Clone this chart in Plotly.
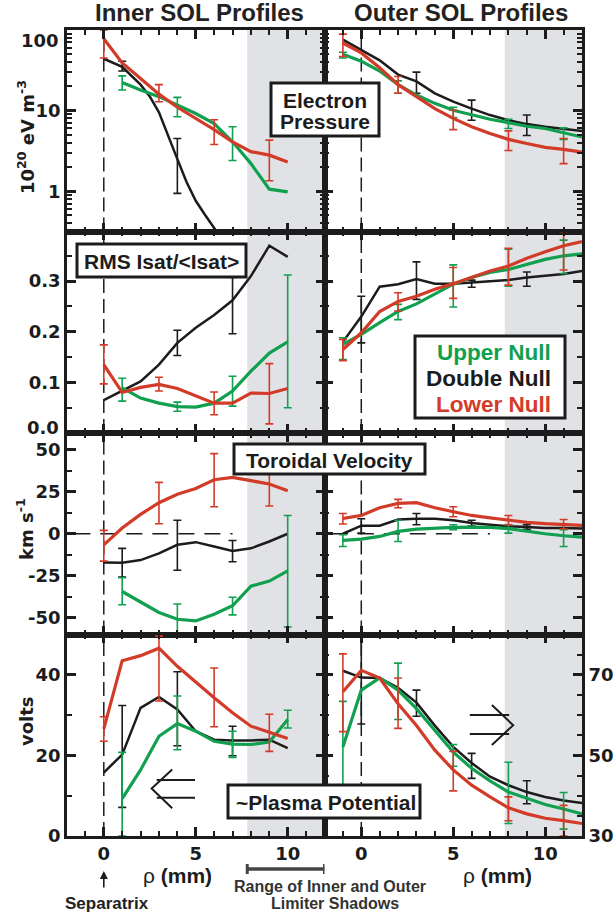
import plotly.graph_objects as go
from plotly.subplots import make_subplots

# ---------------- data ----------------
X_IN = [0, 1, 2, 3, 4, 5, 6, 7, 8, 9, 10]
X_IN_G = [1, 2, 3, 4, 5, 6, 7, 8, 9, 10]
X_OUT = [-1, 0, 1, 2, 3, 4, 5, 6, 7, 8, 9, 10, 11, 12]

# Electron pressure (10^20 eV m^-3)
PE_IN_BLK_X = [0, 1, 2, 2.5, 3, 3.5, 4, 4.5, 5, 5.5, 6, 6.5]
PE_IN_BLK = [44, 35, 21, 15, 9.5, 5.0, 2.5, 1.3, 0.76, 0.51, 0.35, 0.24]
PE_IN_GRN = [22.3, 18, 14.9, 11.7, 9.2, 6.9, 4.1, 2.2, 1.06, 0.98]
PE_IN_RED = [78, 39, 25, 16, 11, 8, 5.8, 4.1, 3.1, 2.8, 2.3]
PE_OUT_BLK = [76, 57, 42, 28, 23, 16.4, 12.9, 10.6, 8.8, 7.6, 6.8, 6.3, 5.9, 5.6]
PE_OUT_GRN = [50, 41, 31, 21, 15.6, 12.3, 10.1, 8.8, 7.8, 7.1, 6.4, 6.0, 5.3, 4.7]
PE_OUT_RED = [69, 52, 34, 21, 14.9, 10.6, 8.0, 6.3, 5.2, 4.4, 3.9, 3.5, 3.3, 3.05]

PE_IN_BLK_E = ([1, 4], [31, 0.94], [41, 4.5])
PE_IN_GRN_E = ([1, 4, 7], [18, 8.4, 2.4], [27, 14.6, 6.3])
PE_IN_RED_E = ([0, 3, 6, 9], [45, 12.9, 3.8, 1.35], [100, 21, 7.7, 4.3])
PE_OUT_BLK_E = ([3, 6, 9], [16.4, 7.6, 4.9], [30, 13.5, 8.8])
PE_OUT_GRN_E = ([-1, 2, 5, 8, 11], [45, 16.4, 8.2, 6.0, 4.4], [53, 23.4, 11, 7.8, 6.1])
PE_OUT_RED_E = ([-1, 2, 5, 8, 11], [47, 16.4, 5.8, 3.2, 2.2], [89, 26.5, 10.1, 5.6, 4.5])

# RMS Isat/<Isat>
RMS_IN_BLK = [0.065, 0.084, 0.102, 0.135, 0.178, 0.208, 0.233, 0.262, 0.31, 0.37, 0.348]
RMS_IN_GRN = [0.089, 0.069, 0.059, 0.052, 0.051, 0.059, 0.083, 0.122, 0.158, 0.18]
RMS_IN_RED = [0.135, 0.08, 0.09, 0.096, 0.088, 0.073, 0.059, 0.059, 0.079, 0.078, 0.088]
RMS_OUT_BLK = [0.18, 0.23, 0.289, 0.294, 0.304, 0.295, 0.295, 0.297, 0.299, 0.302, 0.307, 0.31, 0.314, 0.32]
RMS_OUT_GRN = [0.175, 0.195, 0.218, 0.24, 0.255, 0.274, 0.294, 0.307, 0.317, 0.323, 0.333, 0.343, 0.35, 0.354]
RMS_OUT_RED = [0.165, 0.198, 0.24, 0.26, 0.27, 0.284, 0.295, 0.308, 0.32, 0.33, 0.345, 0.358, 0.37, 0.378]

RMS_IN_BLK_E = ([4, 7], [0.153, 0.196], [0.203, 0.307])
RMS_IN_GRN_E = ([1, 4, 7, 10], [0.063, 0.043, 0.053, 0.05], [0.108, 0.061, 0.112, 0.312])
RMS_IN_RED_E = ([0, 3, 6, 9], [0.097, 0.083, 0.036, 0.018], [0.174, 0.11, 0.081, 0.137])
RMS_OUT_BLK_E = ([0, 3, 6, 9], [0.178, 0.264, 0.288, 0.29], [0.27, 0.338, 0.302, 0.318])
RMS_OUT_GRN_E = ([-1, 2, 5, 8, 11], [0.145, 0.224, 0.249, 0.29, 0.315], [0.188, 0.254, 0.332, 0.363, 0.381])
RMS_OUT_RED_E = ([-1, 2, 5, 8, 11], [0.143, 0.241, 0.266, 0.292, 0.322], [0.185, 0.277, 0.327, 0.365, 0.398])

# Toroidal velocity (km/s)
VEL_IN_BLK = [-17.1, -17.3, -15.7, -11.7, -6.6, -5, -7.6, -10.3, -8.7, -4.6, 0]
VEL_IN_GRN = [-34.4, -40.8, -46.9, -50.9, -51.9, -47.9, -42.9, -31.2, -28.2, -22.1]
VEL_IN_RED = [-6.6, 3.4, 11.5, 18.5, 23.5, 27, 32.2, 33.6, 31.6, 29.6, 25.6]
VEL_OUT_BLK = [0, 4.8, 4.8, 8.5, 8.9, 8.9, 8.0, 6.4, 5.4, 4.4, 4.0, 3.4, 3.4, 3.2]
VEL_OUT_GRN = [-4.0, -3.2, -1.6, 1.4, 2.8, 3.4, 3.8, 4.0, 3.8, 3.0, 1.4, 0, -1.2, -2.0]
VEL_OUT_RED = [9.1, 10.9, 15.5, 18.1, 18.5, 15.5, 13.1, 10.9, 9.5, 8.0, 6.8, 6.0, 5.6, 5.0]

VEL_IN_BLK_E = ([1, 4, 7], [-25.8, -21.7, -16.7], [-8.7, 8, -4])
VEL_IN_GRN_E = ([1, 4, 7, 10], [-42.3, -60.4, -48.3, -55.5], [-26.2, -41.8, -37.8, 10.9])
VEL_IN_RED_E = ([0, 3, 6, 9], [-16.3, 6, 16.1, 16.5], [2, 30.6, 47.7, 40.6])
VEL_OUT_BLK_E = ([0, 3, 6, 9], [0.4, 5.4, 4.6, 2.6], [8.9, 12.1, 8, 5.4])
VEL_OUT_GRN_E = ([-1, 2, 5, 8, 11], [-7.6, -4.6, 2.4, 0.4, -7.6], [-0.6, 8, 5.4, 5.4, 2.4])
VEL_OUT_RED_E = ([-1, 2, 5, 8, 11], [5.8, 15.5, 10.1, 5.4, 2.8], [12.1, 20.5, 16.1, 10.9, 8.5])

# ~Plasma potential (volts)
POT_IN_BLK = [15.75, 20.2, 31.8, 34.5, 31.4, 26, 23.9, 23.7, 23.7, 23.9, 21.8]
POT_IN_GRN = [9.3, 16.4, 24.75, 27.9, 26, 23.5, 22.8, 22.7, 23.3, 28.9]
POT_IN_RED = [26.6, 43.5, 44.75, 46.6, 42.1, 38.1, 34.3, 30.6, 27.25, 25.75, 24.2]
POT_OUT_BLK = [71, 69.3, 69.2, 66.8, 63.1, 57.4, 52.1, 48.1, 44.7, 42.6, 40.9, 39.7, 38.8, 38.2]
POT_OUT_GRN = [52.1, 66.2, 69.2, 66.2, 61.6, 56.1, 50.8, 46.8, 43.7, 40.9, 39.3, 37.8, 36.7, 35.5]
POT_OUT_RED = [65.8, 71.1, 69.2, 62.8, 57.4, 51.3, 46.4, 42.6, 39.7, 37, 35.5, 34.4, 33.8, 33.1]

POT_IN_BLK_E = ([1, 4, 7], [7.1, 22.4, 19.9], [32.4, 40.75, 27.25])
POT_IN_GRN_E = ([1, 4, 7, 10], [0, 21.4, 19.5, 26.8], [20.75, 34.75, 26, 31.2])
POT_IN_RED_E = ([0, 3, 6, 9], [23.5, 33.5, 27.1, 21], [29.6, 49.6, 41.7, 30.2])
POT_OUT_BLK_E = ([0, 3, 6, 9], [57.8, 59.7, 44.3, 38], [80.8, 66.2, 50.5, 43.7])
POT_OUT_GRN_E = ([-1, 2, 5, 8, 11], [42.6, 58.9, 47.3, 33.1, 31.7], [63.4, 72.9, 52.7, 48.3, 40.8])
POT_OUT_RED_E = ([-1, 2, 5, 8, 11], [55.9, 56.7, 41.2, 33.8, 30], [75.2, 69.2, 51, 39.7, 37.6])

SEPARATRIX = 0
SHADOW = [7.8, 12]
X_RANGE = [-2, 12]

PE_TICKS = [1, 10, 100]
RMS_TICKS = [0.0, 0.1, 0.2, 0.3]
VEL_TICKS = [-50, -25, 0, 25, 50]
VEL_TICKTEXT = ["-50", "-25", "0", "25", "50"]

LEGEND_LABELS = ["Upper Null", "Double Null", "Lower Null"]
PANEL_LABELS = ["Electron", "Pressure", "RMS Isat/&lt;Isat&gt;", "Toroidal Velocity", "~Plasma Potential"]

# ---------------- style ----------------
GREEN = "#10a04f"
RED = "#d33b29"
BLACK = "#1c1c1c"
SHADE = "#e1e2e6"
W, H = 614, 915
ML, MR, MT, MB = 67, 32, 30, 79
PW, PH = W - ML - MR, H - MT - MB


def px(xp):
    return (xp - ML) / PW


def py(yp):
    return (H - MB - yp) / PH


fig = make_subplots(rows=4, cols=2, horizontal_spacing=0, vertical_spacing=0)


def add_series(row, col, x, y, err, color, width):
    fig.add_trace(go.Scatter(x=x, y=y, mode="lines", line=dict(color=color, width=width),
                             showlegend=False, hoverinfo="skip"), row=row, col=col)
    ex, lo, hi = err
    cy = [y[x.index(e)] for e in ex]
    fig.add_trace(go.Scatter(
        x=ex, y=cy, mode="markers", marker=dict(size=1, color=color),
        error_y=dict(type="data", symmetric=False,
                     array=[h - c for h, c in zip(hi, cy)],
                     arrayminus=[c - l for l, c in zip(lo, cy)],
                     color=color, thickness=1.6, width=4),
        showlegend=False, hoverinfo="skip"), row=row, col=col)


panels = [
    (1, 1, [(PE_IN_BLK_X, PE_IN_BLK, PE_IN_BLK_E, BLACK), (X_IN_G, PE_IN_GRN, PE_IN_GRN_E, GREEN), (X_IN, PE_IN_RED, PE_IN_RED_E, RED)]),
    (1, 2, [(X_OUT, PE_OUT_BLK, PE_OUT_BLK_E, BLACK), (X_OUT, PE_OUT_GRN, PE_OUT_GRN_E, GREEN), (X_OUT, PE_OUT_RED, PE_OUT_RED_E, RED)]),
    (2, 1, [(X_IN, RMS_IN_BLK, RMS_IN_BLK_E, BLACK), (X_IN_G, RMS_IN_GRN, RMS_IN_GRN_E, GREEN), (X_IN, RMS_IN_RED, RMS_IN_RED_E, RED)]),
    (2, 2, [(X_OUT, RMS_OUT_BLK, RMS_OUT_BLK_E, BLACK), (X_OUT, RMS_OUT_GRN, RMS_OUT_GRN_E, GREEN), (X_OUT, RMS_OUT_RED, RMS_OUT_RED_E, RED)]),
    (3, 1, [(X_IN, VEL_IN_BLK, VEL_IN_BLK_E, BLACK), (X_IN_G, VEL_IN_GRN, VEL_IN_GRN_E, GREEN), (X_IN, VEL_IN_RED, VEL_IN_RED_E, RED)]),
    (3, 2, [(X_OUT, VEL_OUT_BLK, VEL_OUT_BLK_E, BLACK), (X_OUT, VEL_OUT_GRN, VEL_OUT_GRN_E, GREEN), (X_OUT, VEL_OUT_RED, VEL_OUT_RED_E, RED)]),
    (4, 1, [(X_IN, POT_IN_BLK, POT_IN_BLK_E, BLACK), (X_IN_G, POT_IN_GRN, POT_IN_GRN_E, GREEN), (X_IN, POT_IN_RED, POT_IN_RED_E, RED)]),
    (4, 2, [(X_OUT, POT_OUT_BLK, POT_OUT_BLK_E, BLACK), (X_OUT, POT_OUT_GRN, POT_OUT_GRN_E, GREEN), (X_OUT, POT_OUT_RED, POT_OUT_RED_E, RED)]),
]
for r, c, series in panels:
    for x, y, e, col in series:
        add_series(r, c, x, y, e, col, 2.5 if col == BLACK else 3.2)

tickfont = dict(family="DejaVu Sans", size=18, color=BLACK, weight="bold")
common = dict(showline=True, linewidth=2.6, linecolor=BLACK, mirror="allticks", ticks="inside",
              ticklen=9, tickwidth=2.5, tickcolor=BLACK, showgrid=False, zeroline=False,
              tickfont=tickfont, automargin=False)


def minor(**kw):
    return dict(ticks="inside", ticklen=5, tickwidth=2, tickcolor=BLACK, showgrid=False, **kw)


for r in range(1, 5):
    for c in (1, 2):
        fig.update_xaxes(range=X_RANGE, tickmode="linear", tick0=0, dtick=5,
                         minor=minor(tickmode="linear", dtick=1, tick0=0),
                         showticklabels=(r == 4), row=r, col=c, **common)

log_minor = [m * d for d in (0.1, 1, 10) for m in range(2, 10)]
for c in (1, 2):
    # the edge labels "100" and "0.0" are drawn as annotations (offset inward like the original)
    fig.update_yaxes(type="log", range=[-0.5, 2.0], tickmode="array", tickvals=PE_TICKS,
                     ticktext=["1", "10", ""],
                     minor=minor(tickmode="array", tickvals=log_minor),
                     showticklabels=(c == 1), row=1, col=c, **common)
    fig.update_yaxes(range=[0, 0.398], tickmode="array", tickvals=RMS_TICKS,
                     ticktext=["", "0.1", "0.2", "0.3"],
                     minor=minor(tickmode="linear", dtick=0.05, tick0=0),
                     showticklabels=(c == 1), row=2, col=c, **common)
    fig.update_yaxes(range=[-60, 60], tickmode="array", tickvals=VEL_TICKS, ticktext=VEL_TICKTEXT,
                     minor=minor(tickmode="linear", dtick=12.5, tick0=0),
                     showticklabels=(c == 1), row=3, col=c, **common)
fig.update_yaxes(range=[0, 50], tickmode="linear", tick0=0, dtick=20,
                 minor=minor(tickmode="linear", dtick=10, tick0=0),
                 row=4, col=1, **common)
fig.update_yaxes(range=[30, 80], side="right", tickmode="linear", tick0=30, dtick=20,
                 minor=minor(tickmode="linear", dtick=5, tick0=30), ticklabelstandoff=0,
                 row=4, col=2, **common)

shapes = []
axes_ids = [("x", "y"), ("x2", "y2"), ("x3", "y3"), ("x4", "y4"), ("x5", "y5"), ("x6", "y6"), ("x7", "y7"), ("x8", "y8")]
for i, (xa, ya) in enumerate(axes_ids):
    shapes.append(dict(type="rect", xref=xa, yref=ya + " domain", x0=SHADOW[0], x1=SHADOW[1], y0=0, y1=1,
                       fillcolor=SHADE, line=dict(width=0), layer="below"))
    shapes.append(dict(type="line", xref=xa, yref=ya + " domain", x0=SEPARATRIX, x1=SEPARATRIX, y0=0, y1=1,
                       line=dict(color=BLACK, width=1.5, dash="14px,6px"), layer="below"))
for xa, ya in (("x5", "y5"), ("x6", "y6")):
    shapes.append(dict(type="line", xref=xa, yref=ya, x0=-1.6, x1=7, y0=0, y1=0,
                       line=dict(color=BLACK, width=1.5, dash="16px,10px"), layer="below"))

# double arrows in the potential panels
for xa, ya, xs, xe, ylines, tip, arm_x, arm_y in (
    ("x7", "y7", 2.88, 4.96, (13.9, 9.5), (2.6, 11.8), 3.72, (16.5, 6.9)),
    ("x8", "y8", 5.9, 8.04, (60.0, 55.3), (8.26, 57.5), 7.1, (62.5, 52.6)),
):
    for yl in ylines:
        shapes.append(dict(type="line", xref=xa, yref=ya, x0=xs, x1=xe, y0=yl, y1=yl,
                           line=dict(color=BLACK, width=2)))
    shapes.append(dict(type="path", xref=xa, yref=ya,
                       path=f"M {arm_x},{arm_y[0]} L {tip[0]},{tip[1]} L {arm_x},{arm_y[1]}",
                       line=dict(color=BLACK, width=2)))

# boxes
for x0, x1, y0, y1 in ((271, 379, 83, 136), (77, 246, 244, 277), (415, 565, 336, 418),
                       (234, 425, 444, 474), (228, 420, 785, 818)):
    shapes.append(dict(type="rect", xref="paper", yref="paper", x0=px(x0), x1=px(x1), y0=py(y1), y1=py(y0),
                       fillcolor="white", line=dict(color=BLACK, width=3), layer="above"))

# limiter shadow range bar
bar_y = py(869)
shapes.append(dict(type="line", xref="x7", yref="paper", x0=SHADOW[0], x1=SHADOW[1], y0=bar_y, y1=bar_y,
                   line=dict(color="#444444", width=3.5)))
for xv in SHADOW:
    shapes.append(dict(type="line", xref="x7", yref="paper", x0=xv, x1=xv, y0=py(864), y1=py(874),
                       line=dict(color="#444444", width=3)))

fig.update_layout(shapes=shapes)

lab = dict(family="Liberation Sans", size=21, color=BLACK, weight="bold")
ann = []


def text(t, xpx, ypx, font, xanchor="center", angle=0):
    ann.append(dict(text=t, x=px(xpx), y=py(ypx), xref="paper", yref="paper", showarrow=False,
                    xanchor=xanchor, yanchor="middle", font=font, textangle=angle))


text("Inner SOL Profiles", 199, 13, dict(family="Liberation Sans", size=24, color="#222222", weight="bold"))
text("Outer SOL Profiles", 461, 13, dict(family="Liberation Sans", size=24, color="#222222", weight="bold"))
text(PANEL_LABELS[0], 325, 100, lab)
text(PANEL_LABELS[1], 325, 122, lab)
text(PANEL_LABELS[2], 161, 261, lab)
text(PANEL_LABELS[3], 329.5, 460, lab)
text(PANEL_LABELS[4], 326, 802, lab)
for t, yv, colr in zip(LEGEND_LABELS, (352.5, 378.5, 404), (GREEN, BLACK, RED)):
    text(t, 553, yv, dict(family="Liberation Sans", size=22.5, color=colr, weight="bold"), xanchor="right")

# edge tick labels
text(str(PE_TICKS[-1]), 61, 40, tickfont, xanchor="right")
text(f"{RMS_TICKS[0]:.1f}", 61, 427, tickfont, xanchor="right")

ylab = dict(family="DejaVu Sans", size=18, color=BLACK, weight="bold")
text("10<sup>20</sup> eV m<sup>-3</sup>", 26, 137, ylab, angle=-90)
text("km s<sup>-1</sup>", 25, 529, ylab, angle=-90)
text("volts", 26, 721, ylab, angle=-90)

rho = dict(family="Liberation Sans", size=21, color=BLACK)
text("ρ <b>(mm)</b>", 177, 875, rho)
text("ρ <b>(mm)</b>", 497, 875, rho)
small = dict(family="Liberation Sans", size=17, color="#222222", weight="bold")
text("Separatrix", 107, 903, small)
rng = dict(family="Liberation Sans", size=16, color="#333333", weight="bold")
text("Range of Inner and Outer", 330, 886, rng)
text("Limiter Shadows", 335, 904, rng)

ann.append(dict(text="", x=SEPARATRIX, xref="x7", y=py(871), yref="paper", showarrow=True,
                ax=0, ay=18, arrowhead=2, arrowsize=1, arrowwidth=1.6, arrowcolor=BLACK))

fig.update_layout(annotations=ann, width=W, height=H,
                  margin=dict(l=ML, r=MR, t=MT, b=MB),
                  paper_bgcolor="white", plot_bgcolor="white", showlegend=False)

fig.write_html("out.html")
